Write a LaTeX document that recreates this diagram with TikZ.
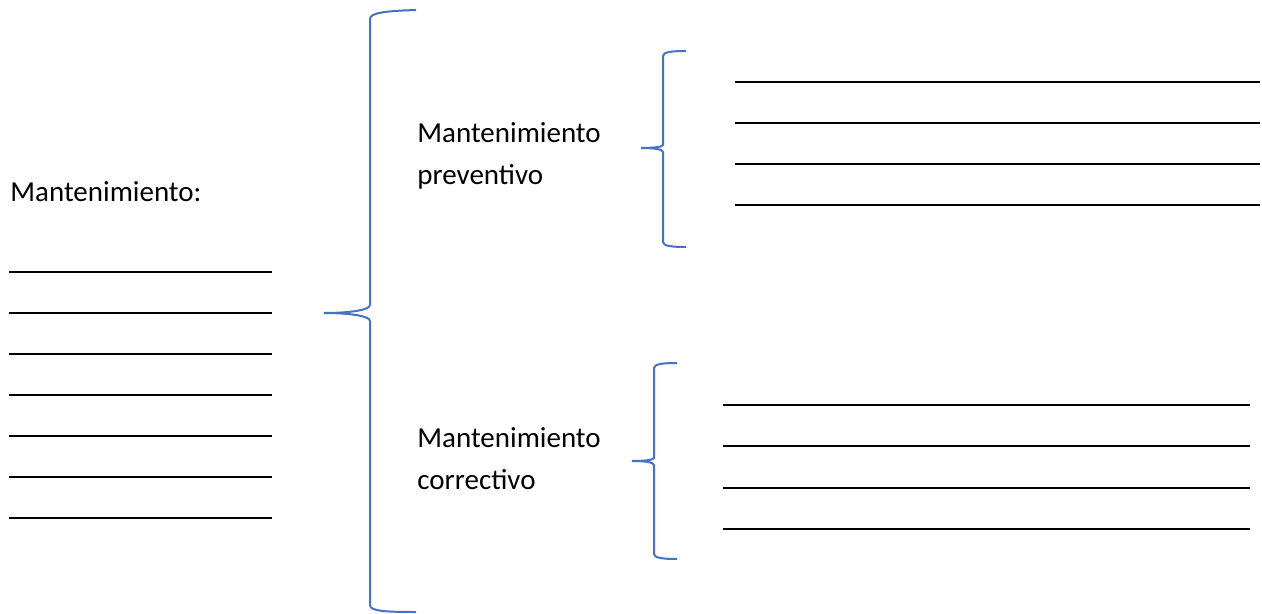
\documentclass[tikz,border=0pt]{standalone}
\usepackage{fontspec}
\setmainfont{Carlito}
\definecolor{azulllave}{HTML}{4472C4}
\begin{document}
\begin{tikzpicture}[x=0.5pt, y=-0.5pt,
    llave/.style={draw=azulllave, line width=1pt},
    raya/.style={draw=black, line width=1pt},
    texto/.style={font=\fontsize{14.5}{21}\selectfont, inner sep=0pt, align=left}]

    % Marco del dibujo (en pixeles de la imagen)
    \useasboundingbox (0,0) rectangle (1262,614);

    % 1. Textos
    \node[texto, anchor=base west] (mant) at (10,202) {Mantenimiento:};
    \node[texto, anchor=west] (prev) at (417,156) {Mantenimiento\\preventivo};
    \node[texto, anchor=west] (corr) at (417,459) {Mantenimiento\\correctivo};

    % 2. Renglones para completar
    \foreach \i in {0,...,6} {
        \draw[raya] (9,272+41*\i) -- (272,272+41*\i);
    }
    \foreach \i in {0,...,3} {
        \draw[raya] (735,82+41*\i) -- (1260,82+41*\i);
        \draw[raya] (723,405+41.3*\i) -- (1250,405+41.3*\i);
    }

    % 3. Puntas de las llaves
    \coordinate (puntaG) at (324,313);
    \coordinate (puntaP) at (641,148);
    \coordinate (puntaC) at (632,461);

    % 4. Llave grande
    \draw[llave] (416,10) .. controls (384,11) and (370,13) .. (370,19)
        -- (370,305) .. controls (370,310) and (350,313) .. (puntaG)
        .. controls (350,313) and (370,316) .. (370,321)
        -- (370,605) .. controls (370,611) and (384,612) .. (416,612);

    % 5. Llave del preventivo
    \draw[llave] (686,51) .. controls (672,51) and (663,52) .. (663,56)
        -- (663,145) .. controls (663,147) and (652,148) .. (puntaP)
        .. controls (652,148) and (663,149) .. (663,152)
        -- (663,242) .. controls (663,246) and (672,247) .. (686,247);

    % 6. Llave del correctivo
    \draw[llave] (677,363) .. controls (663,363) and (654,364) .. (654,368)
        -- (654,458) .. controls (654,460) and (643,461) .. (puntaC)
        .. controls (643,461) and (654,462) .. (654,465)
        -- (654,554) .. controls (654,558) and (663,559) .. (677,559);

\end{tikzpicture}
\end{document}
